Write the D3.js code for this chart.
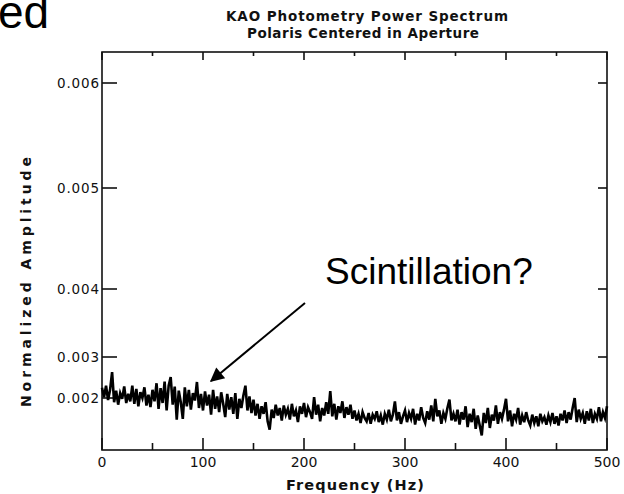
<!DOCTYPE html>
<html lang="en">
<head>
	<meta charset="UTF-8">
	<title>KAO Photometry Power Spectrum</title>
	<script src="https://cdnjs.cloudflare.com/ajax/libs/d3/7.8.5/d3.min.js"></script>
	<style>
		body {
			margin: 0;
			background-color: #fff;
		}
		svg {
			display: block;
		}
		.plot-text {
			font-family: "DejaVu Sans", sans-serif;
			font-weight: bold;
			fill: #111;
		}
		.slide-text {
			font-family: "Liberation Sans", Arial, sans-serif;
			fill: #000;
		}
	</style>
</head>
<body>
	<div id="chart-container"></div>

	<script>
		// amplitude in units of 1e-3, one value every 2 Hz (0..500 Hz)
		const amplitudeMilli = [
			2.25, 2.02, 2.30, 1.95, 2.20, 2.63, 1.90, 2.18, 1.84, 2.12, 1.98, 2.28, 1.88, 2.10, 1.92, 2.30, 1.86, 2.22, 1.80, 2.14, 2.00, 2.26, 1.82, 2.08, 1.78,
			2.20, 1.92, 2.36, 1.74, 2.24, 1.88, 2.40, 1.70, 2.30, 2.51, 1.84, 2.28, 1.48, 2.18, 1.90, 1.50, 2.26, 1.80, 2.20, 1.72, 2.12, 1.94, 2.39, 1.76, 2.10,
			1.70, 2.16, 1.82, 2.08, 1.60, 2.20, 1.74, 2.04, 1.66, 2.14, 1.86, 1.54, 2.10, 1.72, 2.02, 1.62, 2.12, 1.50, 1.98, 1.76, 2.06, 2.30, 1.70, 2.04, 1.64,
			1.96, 1.58, 1.86, 1.50, 1.80, 1.62, 1.90, 1.44, 1.24, 1.72, 1.52, 1.84, 1.58, 1.76, 1.46, 1.82, 1.60, 1.74, 1.48, 1.86, 1.56, 1.70, 1.42, 1.80, 1.62,
			1.88, 1.54, 1.78, 1.66, 1.50, 2.02, 1.60, 1.84, 1.44, 1.76, 1.58, 1.90, 1.62, 2.17, 1.56, 1.86, 1.48, 1.80, 1.64, 1.92, 1.52, 1.78, 1.60, 1.84, 1.50,
			1.70, 1.46, 1.62, 1.40, 1.66, 1.52, 1.44, 1.64, 1.38, 1.60, 1.50, 1.68, 1.42, 1.58, 1.36, 1.62, 1.48, 1.72, 1.44, 1.60, 1.92, 1.46, 1.66, 1.38, 1.56,
			1.70, 1.42, 1.64, 1.50, 1.74, 1.36, 1.62, 1.46, 1.78, 1.52, 1.40, 1.68, 1.48, 1.82, 1.44, 1.98, 1.56, 1.70, 1.38, 1.64, 1.50, 1.76, 1.96, 1.46, 1.62,
			1.44, 1.72, 1.36, 1.66, 1.48, 1.80, 1.30, 1.62, 1.42, 1.74, 1.26, 1.58, 1.34, 1.10, 1.64, 1.40, 1.76, 1.28, 1.60, 1.46, 1.82, 1.38, 1.66, 1.50, 1.72,
			1.98, 1.44, 1.70, 1.32, 1.62, 1.48, 1.76, 1.36, 1.58, 1.42, 1.66, 1.46, 1.34, 1.60, 1.40, 1.56, 1.32, 1.62, 1.44, 1.54, 1.36, 1.58, 1.42, 1.64, 1.38,
			1.56, 1.34, 1.62, 1.46, 1.70, 1.40, 1.66, 1.48, 1.76, 2.00, 1.42, 1.72, 1.50, 1.64, 1.38, 1.68, 1.46, 1.74, 1.40, 1.62, 1.50, 1.78, 1.44, 1.66, 1.52,
			1.80
		];
		const freqStep = 2;

		const xTicks = [0, 100, 200, 300, 400, 500];
		const xMinorTicks = [50, 150, 250, 350, 450];
		const yTicks = [0.002, 0.003, 0.004, 0.005, 0.006];
		const yRightTicks = [0.003, 0.004, 0.005, 0.006];

		const titleLines = ["KAO Photometry Power Spectrum", "Polaris Centered in Aperture"];

		const width = 624, height = 494;
		const plot = { left: 102, right: 607, top: 52, bottom: 450 };

		const svg = d3.select("#chart-container")
			.append("svg")
			.attr("width", width)
			.attr("height", height);

		svg.append("rect")
			.attr("width", width)
			.attr("height", height)
			.attr("fill", "#fff");

		const x = d3.scaleLinear()
			.domain([0, 500])
			.range([plot.left, plot.right]);

		// the printed amplitude axis is not evenly spaced, so piecewise
		const y = d3.scaleLinear()
			.domain([0.00075, 0.002, 0.003, 0.004, 0.005, 0.006, 0.0063])
			.range([plot.bottom, 398, 357, 289, 188, 83, plot.top]);

		// cropped slide heading
		svg.append("text")
			.attr("class", "slide-text")
			.attr("x", -2)
			.attr("y", 28)
			.style("font-size", "46px")
			.text("ed");

		svg.selectAll(".title")
			.data(titleLines)
			.enter().append("text")
			.attr("class", "plot-text title")
			.attr("x", (d, i) => i === 0 ? 367 : 363)
			.attr("y", (d, i) => 21 + i * 17)
			.attr("text-anchor", "middle")
			.attr("textLength", (d, i) => i === 0 ? 282 : 232)
			.attr("lengthAdjust", "spacing")
			.style("font-size", "13.5px")
			.style("font-weight", "600")
			.text(d => d);

		// frame
		svg.append("rect")
			.attr("x", plot.left)
			.attr("y", plot.top)
			.attr("width", plot.right - plot.left)
			.attr("height", plot.bottom - plot.top)
			.attr("fill", "none")
			.attr("stroke", "#111")
			.attr("stroke-width", 1.6);

		const ticks = svg.append("g")
			.attr("stroke", "#111")
			.attr("stroke-width", 1.6);

		ticks.selectAll(".xb")
			.data(xTicks.concat(xMinorTicks))
			.enter().append("line")
			.attr("x1", d => x(d))
			.attr("x2", d => x(d))
			.attr("y1", plot.bottom)
			.attr("y2", d => plot.bottom - (d % 100 === 0 ? 12 : 7));

		ticks.selectAll(".xt")
			.data(xTicks.concat(xMinorTicks))
			.enter().append("line")
			.attr("x1", d => x(d))
			.attr("x2", d => x(d))
			.attr("y1", plot.top)
			.attr("y2", d => plot.top + (d % 100 === 0 ? 8 : 4));

		ticks.selectAll(".yl")
			.data(yTicks)
			.enter().append("line")
			.attr("x1", plot.left)
			.attr("x2", plot.left + 15)
			.attr("y1", d => y(d))
			.attr("y2", d => y(d));

		ticks.selectAll(".yr")
			.data(yRightTicks)
			.enter().append("line")
			.attr("x1", plot.right)
			.attr("x2", plot.right - 9)
			.attr("y1", d => y(d))
			.attr("y2", d => y(d));

		svg.selectAll(".ylabel")
			.data(yTicks)
			.enter().append("text")
			.attr("class", "plot-text")
			.attr("x", plot.left - 3)
			.attr("y", d => y(d))
			.attr("dy", "0.36em")
			.attr("text-anchor", "end")
			.attr("textLength", 42)
			.attr("lengthAdjust", "spacing")
			.style("font-size", "13.5px")
			.style("font-weight", "normal")
			.text(d => d3.format(".3f")(d));

		svg.selectAll(".xlabel")
			.data(xTicks)
			.enter().append("text")
			.attr("class", "plot-text")
			.attr("x", d => x(d))
			.attr("y", 467)
			.attr("text-anchor", "middle")
			.style("font-size", "14px")
			.style("font-weight", "normal")
			.text(d => d);

		svg.append("text")
			.attr("class", "plot-text")
			.attr("x", 355)
			.attr("y", 490)
			.attr("text-anchor", "middle")
			.attr("textLength", 138)
			.attr("lengthAdjust", "spacing")
			.style("font-size", "14.5px")
			.style("font-weight", "600")
			.text("Frequency (Hz)");

		svg.append("text")
			.attr("class", "plot-text")
			.attr("transform", "translate(31,282) rotate(-90)")
			.attr("text-anchor", "middle")
			.attr("textLength", 250)
			.attr("lengthAdjust", "spacing")
			.style("font-size", "14px")
			.style("font-weight", "600")
			.text("Normalized Amplitude");

		// spectrum trace
		const line = d3.line()
			.x((d, i) => x(i * freqStep))
			.y(d => y(d * 1e-3));

		svg.append("path")
			.datum(amplitudeMilli)
			.attr("d", line)
			.attr("fill", "none")
			.attr("stroke", "#000")
			.attr("stroke-width", 2.6)
			.attr("stroke-linejoin", "miter");

		// annotation
		svg.append("defs").append("marker")
			.attr("id", "arrowhead")
			.attr("viewBox", "0 0 10 10")
			.attr("refX", 9)
			.attr("refY", 5)
			.attr("markerWidth", 8)
			.attr("markerHeight", 7)
			.attr("markerUnits", "strokeWidth")
			.attr("orient", "auto")
			.append("path")
			.attr("d", "M0,0 L10,5 L0,10 z")
			.attr("fill", "#000");

		svg.append("line")
			.attr("x1", 305)
			.attr("y1", 303)
			.attr("x2", 211)
			.attr("y2", 381)
			.attr("stroke", "#000")
			.attr("stroke-width", 2)
			.attr("marker-end", "url(#arrowhead)");

		svg.append("text")
			.attr("class", "slide-text")
			.attr("x", 325)
			.attr("y", 284)
			.style("font-size", "37px")
			.text("Scintillation?");
	</script>
</body>
</html>
